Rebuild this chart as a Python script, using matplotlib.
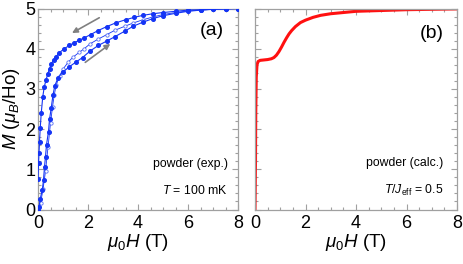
import matplotlib
matplotlib.use("Agg")
import matplotlib.pyplot as plt
from matplotlib.ticker import MultipleLocator

plt.rcParams['font.family'] = ['Liberation Sans', 'DejaVu Sans']
plt.rcParams['mathtext.fontset'] = 'custom'
plt.rcParams['mathtext.rm'] = 'Liberation Sans'
plt.rcParams['mathtext.it'] = 'Liberation Sans:italic'
plt.rcParams['mathtext.bf'] = 'Liberation Sans:bold'

# ---- Panel (a): experimental powder data ----
H_down = [8.0, 7.5, 7.0, 6.5, 6.0, 5.5, 5.0, 4.6, 4.2, 3.85, 3.5, 3.1, 2.75, 2.4, 2.1,
          1.85, 1.65, 1.45, 1.25, 1.05, 0.85, 0.72, 0.62, 0.53, 0.46, 0.39, 0.32,
          0.25, 0.19, 0.13, 0.09, 0.06, 0.04, 0.02, 0.0]
M_down = [5.0, 4.99, 4.98, 4.97, 4.96, 4.93, 4.9, 4.87, 4.83, 4.78, 4.72, 4.64, 4.55,
          4.45, 4.35, 4.27, 4.21, 4.15, 4.08, 4.0, 3.9, 3.8, 3.72, 3.62, 3.5, 3.37,
          3.22, 3.05, 2.8, 2.4, 2.03, 1.69, 1.4, 1.15, 0.75]

H_up = [0.0, 0.04, 0.09, 0.17, 0.22, 0.26, 0.3, 0.34, 0.42, 0.46, 0.53, 0.6, 0.67,
        0.8, 1.0, 1.25, 1.5, 1.78, 2.08, 2.41, 2.75, 3.08, 3.48, 3.81, 4.2, 4.6,
        5.0, 5.5, 6.0, 6.5, 7.0, 7.5, 8.0]
M_up = [0.0, 0.06, 0.27, 0.48, 0.73, 1.06, 1.31, 1.61, 1.94, 2.24, 2.53, 2.85, 3.07,
        3.28, 3.42, 3.55, 3.66, 3.78, 3.94, 4.08, 4.19, 4.3, 4.44, 4.56, 4.66, 4.75,
        4.82, 4.88, 4.93, 4.96, 4.98, 4.99, 5.0]

H_mid = [0.0, 0.1, 0.2, 0.3, 0.4, 0.5, 0.58, 0.65, 0.73, 0.86, 1.0, 1.2, 1.4, 1.65,
         1.85, 2.08, 2.41, 2.75, 3.08, 3.48, 3.81, 4.2, 4.6, 5.0, 5.5, 6.0, 6.5,
         7.0, 7.5, 8.0]
M_mid = [0.0, 0.15, 0.5, 0.95, 1.55, 2.15, 2.55, 2.85, 3.1, 3.32, 3.49, 3.66, 3.79,
         3.91, 4.0, 4.12, 4.24, 4.35, 4.46, 4.56, 4.64, 4.72, 4.79, 4.85, 4.9, 4.94,
         4.96, 4.98, 4.99, 5.0]

# ---- Panel (b): calculated powder curve ----
H_calc = [0.0, 0.02, 0.03, 0.05, 0.08, 0.12, 0.2, 0.35, 0.5, 0.65, 0.75, 0.85, 0.95,
          1.05, 1.15, 1.25, 1.35, 1.45, 1.6, 1.8, 2.0, 2.3, 2.6, 3.0, 3.5, 4.0, 5.0,
          6.0, 7.0, 8.0]
M_calc = [0.0, 1.2, 2.4, 3.3, 3.6, 3.68, 3.71, 3.72, 3.73, 3.75, 3.78, 3.84, 3.93,
          4.04, 4.16, 4.27, 4.37, 4.45, 4.55, 4.65, 4.71, 4.78, 4.83, 4.87, 4.9,
          4.93, 4.95, 4.97, 4.98, 4.99]

x_ticks = [0, 2, 4, 6, 8]
y_ticks = [0, 1, 2, 3, 4, 5]

blue = '#1434f5'
frame = '#a0a0a0'

fig = plt.figure(figsize=(4.63, 2.64), dpi=100)
axa = fig.add_axes([38/463, 1-209.5/264, 200/463, 201/264])
axb = fig.add_axes([255/463, 1-209.5/264, 202/463, 201/264])

for ax in (axa, axb):
    ax.set_xlim(0, 8)
    ax.set_ylim(0, 5)
    ax.set_xticks(x_ticks)
    ax.set_yticks(y_ticks)
    ax.xaxis.set_minor_locator(MultipleLocator(0.5))
    ax.yaxis.set_minor_locator(MultipleLocator(0.2))
    ax.tick_params(which='both', direction='in', top=True, right=True,
                   color=frame, width=0.8)
    ax.tick_params(which='major', length=4, labelsize=13)
    ax.tick_params(axis='y', pad=2)
    ax.tick_params(axis='x', pad=4)
    ax.tick_params(which='minor', length=2)
    for s in ax.spines.values():
        s.set_color(frame)
        s.set_linewidth(0.9)
    ax.set_xlabel(r'$\mu_0H$ (T)', fontsize=13.5, labelpad=0)

axb.tick_params(labelleft=False)

# panel a curves
axa.plot(H_mid, M_mid, '-o', color=blue, lw=0.6, ms=2.4, mec='#5a72f5', mfc='white',
         mew=0.6, zorder=2)
axa.plot(H_up, M_up, '-o', color=blue, lw=0.8, ms=2.6, mec=blue, mfc=blue, zorder=3)
axa.plot(H_down, M_down, '-o', color=blue, lw=0.8, ms=2.6, mec=blue, mfc=blue, zorder=3)

axa.annotate('', xy=(1.36, 4.39), xytext=(2.45, 4.77),
             arrowprops=dict(arrowstyle='-|>', color='#808080', lw=1.2,
                             mutation_scale=8, shrinkA=0, shrinkB=0))
axa.annotate('', xy=(2.89, 4.12), xytext=(1.89, 3.66),
             arrowprops=dict(arrowstyle='-|>', color='#808080', lw=1.2,
                             mutation_scale=8, shrinkA=0, shrinkB=0))

axa.set_ylabel(r'$M$ ($\mu_B$/Ho)', fontsize=13.5, labelpad=2)
axa.text(6.95, 4.45, '(a)', fontsize=14, ha='center', va='center')
axa.text(7.6, 1.13, 'powder (exp.)', fontsize=8.8, ha='right', va='center')
axa.text(7.6, 0.47, r'$T$ = 100 mK', fontsize=8.8, ha='right', va='center')

# panel b curve
axb.plot(H_calc, M_calc, '-', color='#ff1010', lw=2.2)
axb.text(7.0, 4.37, '(b)', fontsize=14, ha='center', va='center')
axb.text(7.45, 1.15, 'powder (calc.)', fontsize=8.8, ha='right', va='center')
axb.text(7.45, 0.47, r'$T$/$J_{\rm eff}$ = 0.5', fontsize=8.8, ha='right', va='center')

fig.savefig('out.png', dpi=100)
